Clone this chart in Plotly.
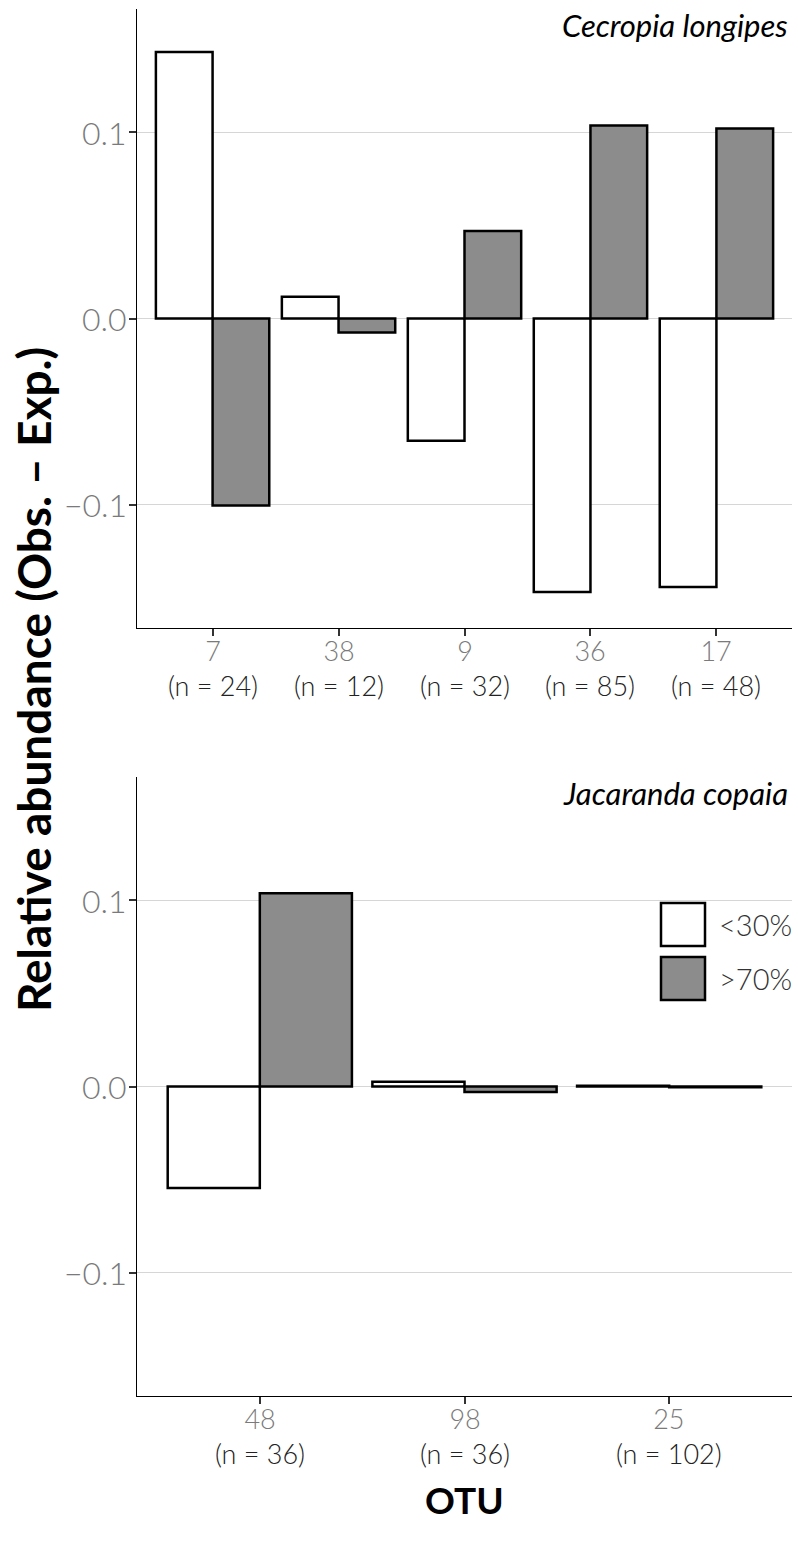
import plotly.graph_objects as go

# ---------------- data ----------------
species = ["Cecropia longipes", "Jacaranda copaia"]
groups = ["<30%", ">70%"]

otu_top = ["7", "38", "9", "36", "17"]
n_top = [24, 12, 32, 85, 48]
low_top = [0.143, 0.0117, -0.0656, -0.1467, -0.144]
high_top = [-0.1003, -0.0075, 0.0469, 0.1035, 0.1019]

otu_bot = ["48", "98", "25"]
n_bot = [36, 36, 102]
low_bot = [-0.0545, 0.0025, 0.0004]
high_bot = [0.1036, -0.003, -0.0004]

ytick_vals = [-0.1, 0.0, 0.1]
ytick_text = ["\u22120.1", "0.0", "0.1"]

# ---------------- style ----------------
FILLS = ["white", "#8c8c8c"]
FONT = "Lato"
LIGHT = "Lato Light, Lato"
W, H = 798, 1541
L, R, T, B = 137, 6, 9, 145
plot_h = H - T - B
plot_w = W - L - R
top_dom = [(1396 - 628) / plot_h, 1.0]
bot_dom = [0.0, (1396 - 777) / plot_h]

fig = go.Figure()

panels = [
    (otu_top, n_top, low_top, high_top, "x", "y"),
    (otu_bot, n_bot, low_bot, high_bot, "x2", "y2"),
]
for otus, ns, lo, hi, xa, ya in panels:
    for gname, vals, fill in zip(groups, [lo, hi], FILLS):
        fig.add_trace(go.Bar(
            x=otus, y=vals, name=gname, xaxis=xa, yaxis=ya,
            marker=dict(color=fill, line=dict(color="black", width=2.5)),
            showlegend=False, offsetgroup=gname,
        ))

axis_common = dict(
    showline=True, linecolor="black", linewidth=1.3,
    ticks="outside", ticklen=7, tickwidth=2, tickcolor="#333333",
    zeroline=False, showticklabels=False,
)

fig.update_layout(
    width=W, height=H,
    margin=dict(l=L, r=R, t=T, b=B),
    paper_bgcolor="white", plot_bgcolor="white",
    barmode="group", bargap=0.1, bargroupgap=0,
    showlegend=False,
    xaxis=dict(domain=[0, 1], anchor="y", type="category", range=[-0.6, 4.6],
               categoryorder="array", categoryarray=otu_top,
               tickvals=otu_top, showgrid=False, **axis_common),
    yaxis=dict(domain=top_dom, anchor="x", range=[-0.166, 0.166],
               tickvals=ytick_vals, showgrid=True, gridcolor="#d6d6d6", gridwidth=1,
               **axis_common),
    xaxis2=dict(domain=[0, 1], anchor="y2", type="category", range=[-0.6, 2.6],
                categoryorder="array", categoryarray=otu_bot,
                tickvals=otu_bot, showgrid=False, **axis_common),
    yaxis2=dict(domain=bot_dom, anchor="x2", range=[-0.166, 0.166],
                tickvals=ytick_vals, showgrid=True, gridcolor="#d6d6d6", gridwidth=1,
                **axis_common),
)

# x tick labels (OTU number in grey, sample size below), one two-line text per category
for otus, ns, xr, yr in [(otu_top, n_top, "x", "y domain"), (otu_bot, n_bot, "x2", "y2 domain")]:
    for i, (o, n) in enumerate(zip(otus, ns)):
        txt = f"<span style='color:#7a7a7a'>{o}</span><br>(n = {n})"
        fig.add_annotation(text=txt, xref=xr, yref=yr, x=i, y=0, yshift=-4,
                           xanchor="center", yanchor="top", showarrow=False,
                           font=dict(family=LIGHT, size=27, color="#222222", weight=300))

# y tick labels
for xr, yr in [("x domain", "y"), ("x2 domain", "y2")]:
    for v, t in zip(ytick_vals, ytick_text):
        fig.add_annotation(text=t, xref=xr, yref=yr, x=0, y=v, xshift=-8,
                           xanchor="right", yanchor="middle", showarrow=False,
                           font=dict(family=LIGHT, size=32, color="#7a7a7a", weight=300))

# species labels
for sp, xr, yr in zip(species, ["x domain", "x2 domain"], ["y domain", "y2 domain"]):
    fig.add_annotation(text=f"<i>{sp}</i>", xref=xr, yref=yr, x=0.997, y=1, yshift=5,
                       xanchor="right", yanchor="top", showarrow=False,
                       font=dict(family=FONT, size=31, color="black"))

# axis titles
fig.add_annotation(text="<b>Relative abundance (Obs. \u2013 Exp.)</b>", xref="paper", yref="paper",
                   x=-(L - 33) / plot_w, y=(1396 - 680) / plot_h, xanchor="center", yanchor="middle",
                   textangle=-90, showarrow=False,
                   font=dict(family=FONT, size=46, color="black"))
fig.add_annotation(text="<b>OTU</b>", xref="paper", yref="paper",
                   x=0.5, y=-(1499 - 1396) / plot_h, xanchor="center", yanchor="middle",
                   showarrow=False, font=dict(family=FONT, size=37, color="black"))

# legend (manual keys inside lower panel)
leg_x0, leg_x1 = (661 - L) / plot_w, (705 - L) / plot_w
leg_rows = [((1396 - 903) / 619, (1396 - 946) / 619), ((1396 - 957) / 619, (1396 - 1000) / 619)]
for gname, fill, (yt, yb) in zip(groups, FILLS, leg_rows):
    fig.add_shape(type="rect", xref="x2 domain", yref="y2 domain",
                  x0=leg_x0, x1=leg_x1, y0=yb, y1=yt,
                  fillcolor=fill, line=dict(color="black", width=2.5))
    fig.add_annotation(text=gname, xref="x2 domain", yref="y2 domain",
                       x=leg_x1 + 0.018, y=(yt + yb) / 2, xanchor="left", yanchor="middle",
                       showarrow=False, font=dict(family=LIGHT, size=29, color="#333333", weight=300))

fig.write_html("out.html", config={"displayModeBar": False},
               post_script="document.body.style.margin='0';document.body.style.overflow='hidden';")
